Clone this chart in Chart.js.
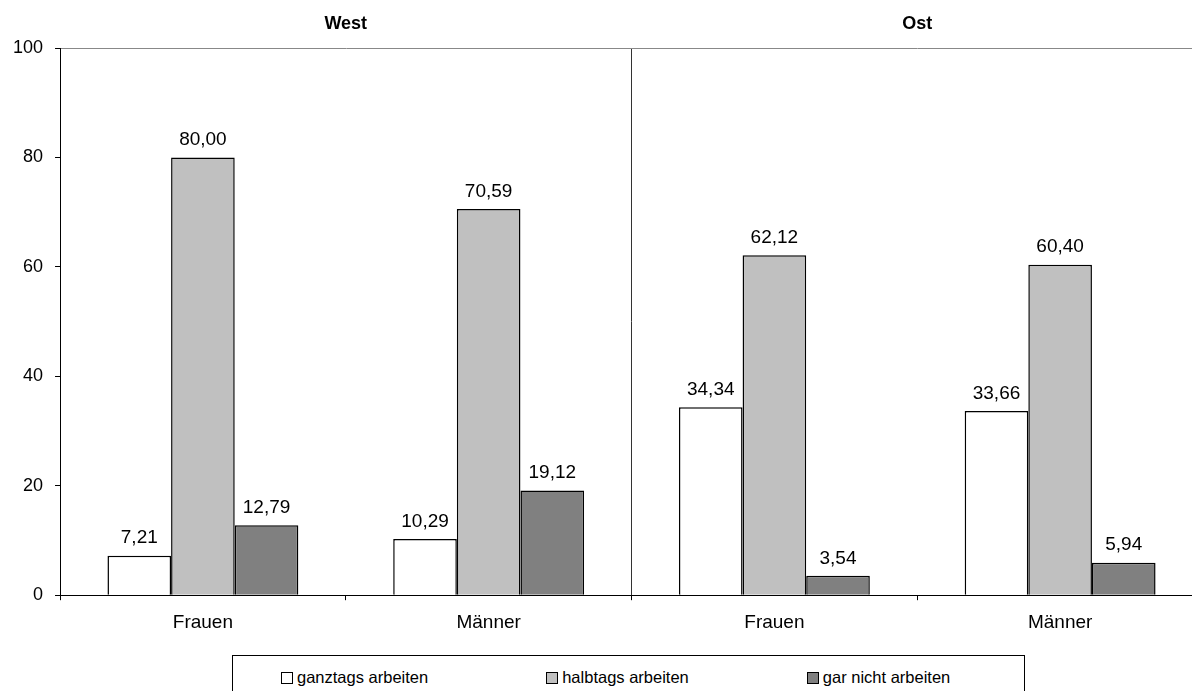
<!DOCTYPE html>
<html>
<head>
<meta charset="utf-8">
<script src="https://cdn.jsdelivr.net/npm/chart.js@4/dist/chart.umd.min.js"></script>
<style>
html,body{margin:0;padding:0;background:#fff;overflow:hidden;width:1192px;height:691px;}
#wrap{position:absolute;left:0;top:0;width:1210px;height:645px;}
#legende{position:absolute;left:232px;top:655px;width:793px;height:60px;border:1px solid #000;box-sizing:border-box;
  display:flex;justify-content:flex-start;align-items:flex-start;gap:118px;padding:12px 0 0 48px;
  font-family:Arial,"Liberation Sans",sans-serif;font-size:16.5px;color:#000;}
.eintrag{display:flex;align-items:center;white-space:nowrap;}
.kasten{width:12px;height:12px;border:1px solid #000;box-sizing:border-box;margin-right:4px;}
</style>
</head>
<body>
<div id="wrap"><canvas id="grafik"></canvas></div>
<div id="legende"></div>
<script>
const kategorien = ["Frauen", "Männer", "Frauen", "Männer"];
const regionen = ["West", "Ost"];
const serien = ["ganztags arbeiten", "halbtags arbeiten", "gar nicht arbeiten"];
const ganztags = [7.21, 10.29, 34.34, 33.66];
const halbtags = [80.00, 70.59, 62.12, 60.40];
const garNicht = [12.79, 19.12, 3.54, 5.94];
const farben = ["#ffffff", "#c0c0c0", "#808080"];
const yMin = 0, yMax = 100, yStep = 20;

const schrift = "Arial, 'Liberation Sans', sans-serif";

function formatZahl(v){
    return v.toFixed(2).replace(".", ",");
}

// Werte ueber den Balken
const wertePlugin = {
    id: "werte",
    afterDatasetsDraw(chart){
        const ctx = chart.ctx;
        ctx.save();
        ctx.font = "19px " + schrift;
        ctx.fillStyle = "#000";
        ctx.textAlign = "center";
        ctx.textBaseline = "bottom";
        chart.data.datasets.forEach((ds, i)=>{
            chart.getDatasetMeta(i).data.forEach((bar, j)=>{
                ctx.fillText(formatZahl(ds.data[j]), bar.x, bar.y - 8);
            });
        });
        ctx.restore();
    }
};

// West / Ost ueber den Gruppen
const regionPlugin = {
    id: "regionen",
    afterDraw(chart){
        const ctx = chart.ctx;
        const x = chart.scales.x;
        ctx.save();
        ctx.font = "bold 18px " + schrift;
        ctx.fillStyle = "#000";
        ctx.textAlign = "center";
        ctx.textBaseline = "middle";
        regionen.forEach((r, i)=>{
            const mitte = (x.getPixelForValue(i*2) + x.getPixelForValue(i*2 + 1)) / 2;
            ctx.fillText(r, mitte, 24);
        });
        ctx.restore();
    }
};

const datenreihen = [ganztags, halbtags, garNicht];

new Chart(document.getElementById("grafik"), {
    type: "bar",
    data: {
        labels: kategorien,
        datasets: serien.map((name, i)=>({
            label: name,
            data: datenreihen[i],
            backgroundColor: farben[i],
            borderColor: "#000",
            borderWidth: 1.5,
            barPercentage: 1,
            categoryPercentage: 0.668
        }))
    },
    options: {
        responsive: true,
        maintainAspectRatio: false,
        animation: false,
        layout: { padding: { top: 48, left: 1, right: 7, bottom: 0 } },
        plugins: {
            legend: { display: false },
            tooltip: { enabled: false }
        },
        scales: {
            x: {
                offset: true,
                grid: {
                    offset: true,
                    color: c => c.index === 2 ? "#333" : "transparent",
                    tickColor: "#000",
                    tickLength: 5,
                    lineWidth: 1
                },
                border: { display: true, color: "#000", width: 1 },
                ticks: {
                    color: "#000",
                    padding: 11,
                    font: { family: schrift, size: 19 }
                }
            },
            y: {
                min: yMin,
                max: yMax,
                grid: {
                    color: c => (c.tick && c.tick.value === yMax) ? "#888" : "transparent",
                    tickColor: "#000",
                    tickLength: 5,
                    lineWidth: 1
                },
                border: { display: true, color: "#000", width: 1 },
                ticks: {
                    stepSize: yStep,
                    color: "#000",
                    padding: 12,
                    font: { family: schrift, size: 18 }
                }
            }
        }
    },
    plugins: [wertePlugin, regionPlugin]
});

// Legende
const legende = document.getElementById("legende");
serien.forEach((name, i)=>{
    const e = document.createElement("div");
    e.className = "eintrag";
    const k = document.createElement("div");
    k.className = "kasten";
    k.style.background = farben[i];
    const t = document.createElement("span");
    t.textContent = name;
    e.appendChild(k);
    e.appendChild(t);
    legende.appendChild(e);
});
</script>
</body>
</html>
